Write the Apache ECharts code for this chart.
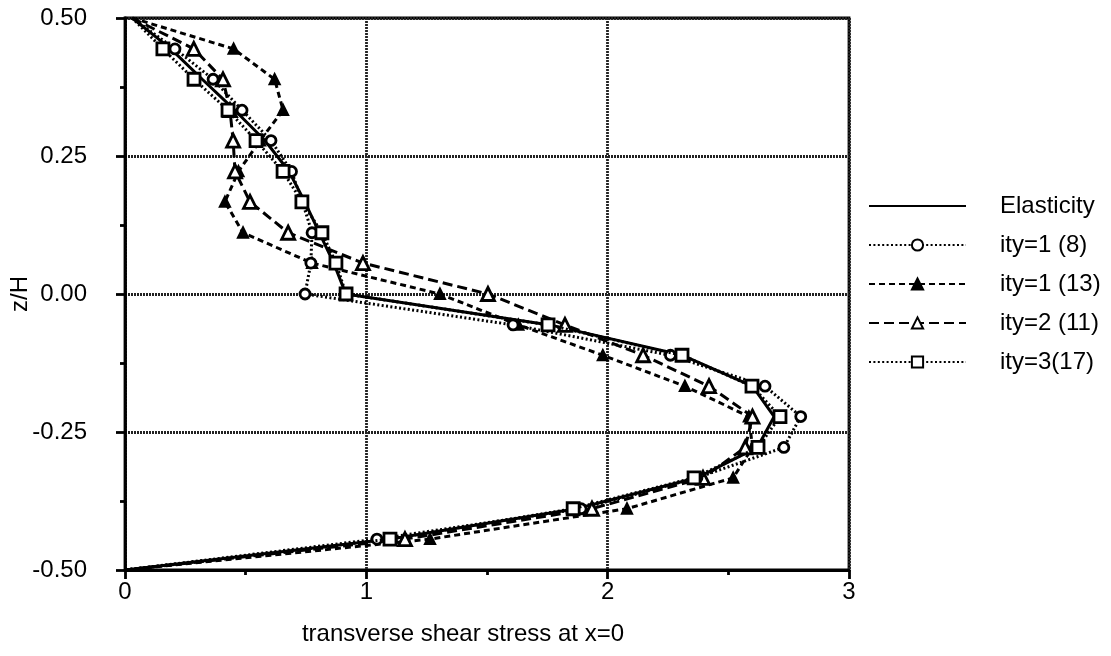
<!DOCTYPE html>
<html>
<head>
<meta charset="utf-8">
<script src="https://cdn.jsdelivr.net/npm/echarts@6/dist/echarts.min.js"></script>
<style>
  html, body { margin: 0; padding: 0; background: #fff; }
  #chart { width: 1111px; height: 656px; }
</style>
</head>
<body>
<div id="chart"></div>
<script>
// Through-thickness positions z/H shared by all profiles
const zLevels = [0.5, 0.444, 0.389, 0.333, 0.278, 0.222, 0.167, 0.111, 0.056, 0,
  -0.056, -0.111, -0.167, -0.222, -0.278, -0.333, -0.389, -0.444, -0.5];

// Transverse shear stress at x=0 for each model
const elasticity = [0.03, 0.19, 0.32, 0.455, 0.58, 0.68, 0.745, 0.805, 0.865, 0.915,
  1.76, 2.31, 2.60, 2.69, 2.62, 2.37, 1.87, 1.10, 0];
const ity1_8 = [0.03, 0.207, 0.365, 0.485, 0.605, 0.69, 0.735, 0.775, 0.77, 0.746,
  1.608, 2.26, 2.652, 2.80, 2.73, 2.37, 1.89, 1.044, 0];
const ity1_13 = [0.03, 0.45, 0.62, 0.655, 0.56, 0.47, 0.414, 0.489, 0.775, 1.305,
  1.63, 1.98, 2.32, 2.585, 2.60, 2.52, 2.08, 1.264, 0];
const ity2_11 = [0.03, 0.285, 0.406, 0.435, 0.448, 0.456, 0.518, 0.676, 0.986, 1.504,
  1.823, 2.147, 2.42, 2.60, 2.57, 2.395, 1.935, 1.16, 0];
const ity3_17 = [0.03, 0.157, 0.286, 0.427, 0.543, 0.655, 0.733, 0.816, 0.874, 0.916,
  1.753, 2.308, 2.598, 2.714, 2.623, 2.358, 1.857, 1.098, 0];

const seriesNames = ['Elasticity', 'ity=1 (8)', 'ity=1 (13)', 'ity=2 (11)', 'ity=3(17)'];
const xTickLabels = ['0', '1', '2', '3'];
const yTickLabels = ['-0.50', '-0.25', '0.00', '0.25', '0.50'];

const FONT = "'Liberation Sans', Arial, Helvetica, sans-serif";

// pair stress values with z levels; surface points carry no marker
function profile(values) {
  return values.map((v, i) => {
    const item = { value: [v, zLevels[i]] };
    if (i === 0 || i === values.length - 1) item.symbol = 'none';
    return item;
  });
}

function lineSeries(name, values, dash, symbol, size, fill, z) {
  const plain = size === 0;
  return {
    name: name,
    type: 'line',
    data: profile(values),
    symbol: symbol,
    symbolSize: size,
    showSymbol: !plain,
    lineStyle: { color: '#000', width: 3, type: dash },
    itemStyle: plain
      ? { color: 'rgba(0,0,0,0)', borderWidth: 0 }
      : { color: fill, borderColor: '#000', borderWidth: 2.8 },
    z: z,
    animation: false
  };
}

const chart = echarts.init(document.getElementById('chart'), null, { renderer: 'canvas' });

const gridLine = { show: true, lineStyle: { color: '#222', width: 2.8, type: [2, 1] } };

chart.setOption({
  backgroundColor: '#fff',
  animation: false,
  textStyle: { fontFamily: FONT, color: '#000' },
  grid: {
    left: 125, right: 262, top: 18, bottom: 86,
    containLabel: false, outerBoundsMode: 'none',
    show: true, borderColor: '#000', borderWidth: 2.8
  },
  xAxis: {
    type: 'value', min: 0, max: 3, interval: 1,
    name: 'transverse shear stress at x=0',
    nameLocation: 'middle', nameGap: 52, nameMoveOverlap: false,
    nameTextStyle: { fontFamily: FONT, fontSize: 24, color: '#000', padding: [0, 48, 0, 0] },
    axisLine: { show: true, onZero: false, lineStyle: { color: '#000', width: 2.8 } },
    axisTick: { show: true, length: 9, lineStyle: { color: '#000', width: 2.8 } },
    minorTick: { show: true, splitNumber: 2, length: 5, lineStyle: { color: '#000', width: 2.8 } },
    axisLabel: {
      margin: 10, fontFamily: FONT, fontSize: 24, color: '#000',
      formatter: (v, i) => xTickLabels[i]
    },
    splitLine: gridLine
  },
  yAxis: {
    type: 'value', min: -0.5, max: 0.5, interval: 0.25,
    name: 'z/H',
    nameLocation: 'middle', nameGap: 93, nameRotate: 90, nameMoveOverlap: false,
    nameTextStyle: { fontFamily: FONT, fontSize: 24, color: '#000' },
    axisLine: { show: true, onZero: false, lineStyle: { color: '#000', width: 2.8 } },
    axisTick: { show: true, length: 9, lineStyle: { color: '#000', width: 2.8 } },
    minorTick: { show: true, splitNumber: 2, length: 5, lineStyle: { color: '#000', width: 2.8 } },
    axisLabel: {
      margin: 38, fontFamily: FONT, fontSize: 24, color: '#000',
      formatter: (v, i) => yTickLabels[i]
    },
    splitLine: gridLine
  },
  legend: {
    orient: 'vertical',
    left: 863, top: 189,
    itemWidth: 97, itemHeight: 14, itemGap: 15,
    data: seriesNames,
    textStyle: { fontFamily: FONT, fontSize: 24, color: '#000', lineHeight: 24, padding: [0, 0, 0, 29] }
  },
  series: [
    lineSeries(seriesNames[0], elasticity, 'solid', 'circle', 0, '#000', 2),
    lineSeries(seriesNames[1], ity1_8, [2, 2.4], 'circle', 10, '#fff', 4),
    lineSeries(seriesNames[2], ity1_13, [6, 4], 'triangle', 9, '#000', 3),
    lineSeries(seriesNames[3], ity2_11, [10, 5], 'triangle', 13, '#fff', 3),
    lineSeries(seriesNames[4], ity3_17, [2, 2.4], 'rect', 12, '#fff', 5)
  ]
});
</script>
</body>
</html>
